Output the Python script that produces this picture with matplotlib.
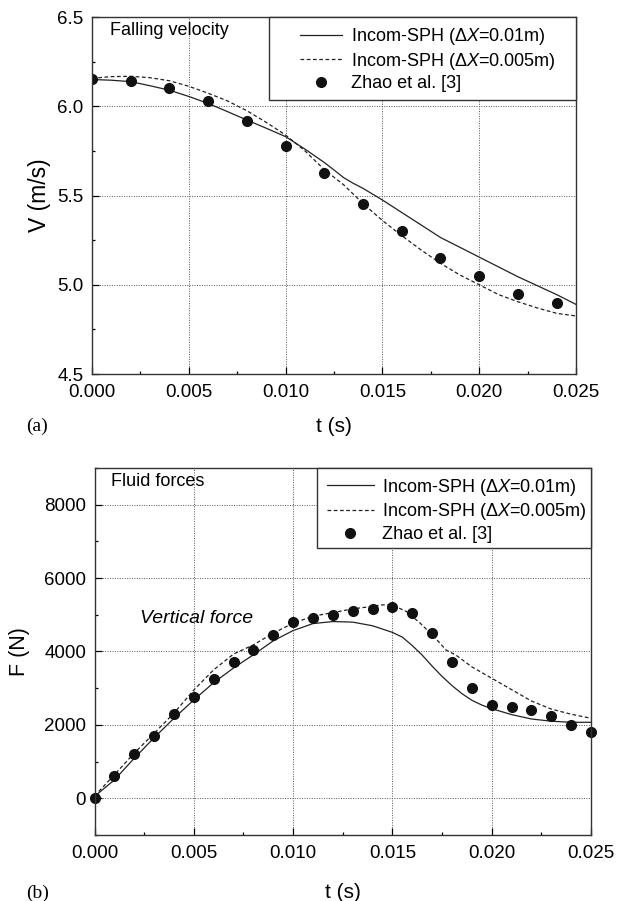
import numpy as np
import matplotlib
matplotlib.use('Agg')
import matplotlib.pyplot as plt
from matplotlib.ticker import MultipleLocator
from matplotlib.patches import Rectangle

plt.rcParams.update({
    'font.family': 'Liberation Sans',
    'font.size': 13.5,
    'mathtext.fontset': 'custom',
    'mathtext.rm': 'Liberation Sans',
    'mathtext.it': 'Liberation Sans:italic',
})

# --- (a) falling velocity ---
t_v_zhao = [0.000, 0.002, 0.004, 0.006, 0.008, 0.010, 0.012, 0.014, 0.016, 0.018, 0.020, 0.022, 0.024]
v_zhao = [6.15, 6.14, 6.10, 6.03, 5.92, 5.775, 5.625, 5.45, 5.30, 5.15, 5.05, 4.95, 4.90]

t_v_coarse = [0.000, 0.001, 0.002, 0.003, 0.004, 0.005, 0.006, 0.007, 0.008, 0.009, 0.010, 0.011,
              0.012, 0.0125, 0.013, 0.0135, 0.014, 0.015, 0.016, 0.017, 0.018, 0.019, 0.020,
              0.021, 0.022, 0.023, 0.024, 0.025]
v_coarse = [6.15, 6.146, 6.138, 6.115, 6.09, 6.055, 6.016, 5.97, 5.923, 5.877, 5.83, 5.76,
            5.685, 5.643, 5.60, 5.568, 5.54, 5.475, 5.405, 5.335, 5.265, 5.21, 5.155,
            5.10, 5.045, 4.995, 4.945, 4.89]

t_v_fine = [0.000, 0.001, 0.002, 0.003, 0.004, 0.005, 0.006, 0.007, 0.008, 0.009, 0.010, 0.011,
            0.012, 0.013, 0.014, 0.015, 0.016, 0.017, 0.018, 0.019, 0.020, 0.021, 0.022,
            0.023, 0.024, 0.025]
v_fine = [6.157, 6.166, 6.168, 6.16, 6.143, 6.112, 6.073, 6.03, 5.975, 5.91, 5.839, 5.75,
          5.645, 5.56, 5.455, 5.36, 5.275, 5.195, 5.12, 5.055, 5.0, 4.945, 4.905,
          4.87, 4.84, 4.825]

# --- (b) fluid forces ---
t_f_zhao = [0.000, 0.001, 0.002, 0.003, 0.004, 0.005, 0.006, 0.007, 0.008, 0.009, 0.010, 0.011,
            0.012, 0.013, 0.014, 0.015, 0.016, 0.017, 0.018, 0.019, 0.020, 0.021, 0.022,
            0.023, 0.024, 0.025]
f_zhao = [0, 600, 1200, 1700, 2300, 2750, 3250, 3700, 4050, 4450, 4800, 4900,
          5000, 5100, 5150, 5200, 5050, 4500, 3700, 3000, 2550, 2500, 2400,
          2250, 2000, 1800]

t_f_coarse = [0.000, 0.001, 0.002, 0.003, 0.004, 0.005, 0.006, 0.007, 0.008, 0.009, 0.010, 0.011,
              0.012, 0.013, 0.014, 0.015, 0.0155, 0.016, 0.0165, 0.017, 0.0175, 0.018, 0.0185,
              0.019, 0.0195, 0.020, 0.021, 0.022, 0.023, 0.024, 0.025]
f_coarse = [50, 500, 1090, 1650, 2180, 2680, 3150, 3550, 3910, 4290, 4570, 4760,
            4815, 4800, 4700, 4520, 4390, 4160, 3900, 3600, 3320, 3070, 2850,
            2670, 2540, 2440, 2280, 2160, 2100, 2070, 2070]

t_f_fine = [0.000, 0.001, 0.002, 0.003, 0.004, 0.005, 0.006, 0.007, 0.008, 0.009, 0.010, 0.011,
            0.012, 0.013, 0.014, 0.0145, 0.015, 0.0157, 0.0164, 0.0171, 0.0177, 0.0182, 0.019,
            0.020, 0.021, 0.022, 0.023, 0.024, 0.025]
f_fine = [60, 640, 1230, 1770, 2320, 2950, 3500, 3930, 4180, 4500, 4770, 4960,
          5060, 5160, 5230, 5270, 5265, 5090, 4770, 4400, 4040, 3900, 3580,
          3270, 2960, 2650, 2430, 2290, 2180]

lab_coarse = r'Incom-SPH ($\Delta X$=0.01m)'
lab_fine = r'Incom-SPH ($\Delta X$=0.005m)'
lab_zhao = 'Zhao et al. [3]'

LINE_C = '#222222'
EDGE_C = '#333333'


def style_axes(ax, ymajor, yminor):
    ax.set_xlim(0, 0.025)
    ax.xaxis.set_major_locator(MultipleLocator(0.005))
    ax.xaxis.set_minor_locator(MultipleLocator(0.0025))
    ax.yaxis.set_major_locator(MultipleLocator(ymajor))
    ax.yaxis.set_minor_locator(MultipleLocator(yminor))
    ax.xaxis.set_major_formatter(matplotlib.ticker.FormatStrFormatter('%.3f'))
    ax.tick_params(which='both', direction='in', top=False, right=False)
    ax.tick_params(which='major', length=5, width=0.9)
    ax.tick_params(which='minor', length=2.5, width=0.9)
    ax.tick_params(axis='x', pad=7)
    ax.tick_params(axis='y', pad=6)
    ax.grid(True, which='major', linestyle=(0, (1, 1.5)), color='#555555', linewidth=0.7)
    for s in ax.spines.values():
        s.set_linewidth(1.0)
        s.set_color(EDGE_C)


def add_legend(ax, box, anchor, handlelength):
    # white framed box in the upper right corner, legend entries inside it
    x0, y0 = box
    ax.add_patch(Rectangle((x0, y0), 1 - x0, 1 - y0, transform=ax.transAxes,
                           facecolor='white', edgecolor=EDGE_C, linewidth=1.0,
                           zorder=4, clip_on=False))
    leg = ax.legend(loc='upper left', bbox_to_anchor=anchor, frameon=False,
                    borderpad=0, borderaxespad=0, fontsize=13,
                    handlelength=handlelength, handletextpad=0.45, labelspacing=0.2)
    leg.set_zorder(5)


fig = plt.figure(figsize=(6.17, 9.01), dpi=100)

# panel (a)
ax1 = fig.add_axes([0.1491, 0.5849, 0.7844, 0.3962])
ax1.plot(t_v_coarse, v_coarse, color=LINE_C, lw=0.9, label=lab_coarse)
ax1.plot(t_v_fine, v_fine, color=LINE_C, lw=0.9, ls=(0, (3, 2)), label=lab_fine)
ax1.plot(t_v_zhao, v_zhao, 'o', color='#111111', ms=7, label=lab_zhao)
ax1.set_ylim(4.5, 6.5)
style_axes(ax1, 0.5, 0.25)
ax1.yaxis.set_major_formatter(matplotlib.ticker.FormatStrFormatter('%.1f'))
ax1.set_ylabel('V (m/s)', fontsize=16.5, ha='center', va='center')
ax1.yaxis.set_label_coords(-0.109, 0.5)
ax1.set_xlabel('t (s)', fontsize=15, va='center')
ax1.xaxis.set_label_coords(0.5, -0.146)
ax1.text(0.00091, 6.425, 'Falling velocity', ha='left', va='center', fontsize=13)
add_legend(ax1, (0.3647, 0.7675), (0.4298, 0.975), 2.35)
fig.text(26 / 617, 1 - 426 / 901, '(a)', family='Liberation Serif', fontsize=14,
         ha='left', va='center')

# panel (b)
ax2 = fig.add_axes([0.1532, 0.0733, 0.8047, 0.4073])
ax2.plot(t_f_coarse, f_coarse, color=LINE_C, lw=0.9, label=lab_coarse)
ax2.plot(t_f_fine, f_fine, color=LINE_C, lw=0.9, ls=(0, (3, 2)), label=lab_fine)
ax2.plot(t_f_zhao, f_zhao, 'o', color='#111111', ms=7, label=lab_zhao, clip_on=False)
ax2.set_ylim(-1000, 9000)
style_axes(ax2, 2000, 1000)
ax2.set_ylabel('F (N)', fontsize=15.5, ha='center', va='center')
ax2.yaxis.set_label_coords(-0.151, 0.5)
ax2.set_xlabel('t (s)', fontsize=15, va='center')
ax2.xaxis.set_label_coords(0.5, -0.158)
ax2.text(0.00083, 8620, 'Fluid forces', ha='left', va='center', fontsize=13)
ax2.text(0.0023, 4900, 'Vertical force', ha='left', va='center', style='italic', fontsize=14)
add_legend(ax2, (0.449, 0.782), (0.468, 0.976), 2.6)
fig.text(26 / 617, 1 - 893 / 901, '(b)', family='Liberation Serif', fontsize=14,
         ha='left', va='center')

fig.savefig('out.png', dpi=100)
